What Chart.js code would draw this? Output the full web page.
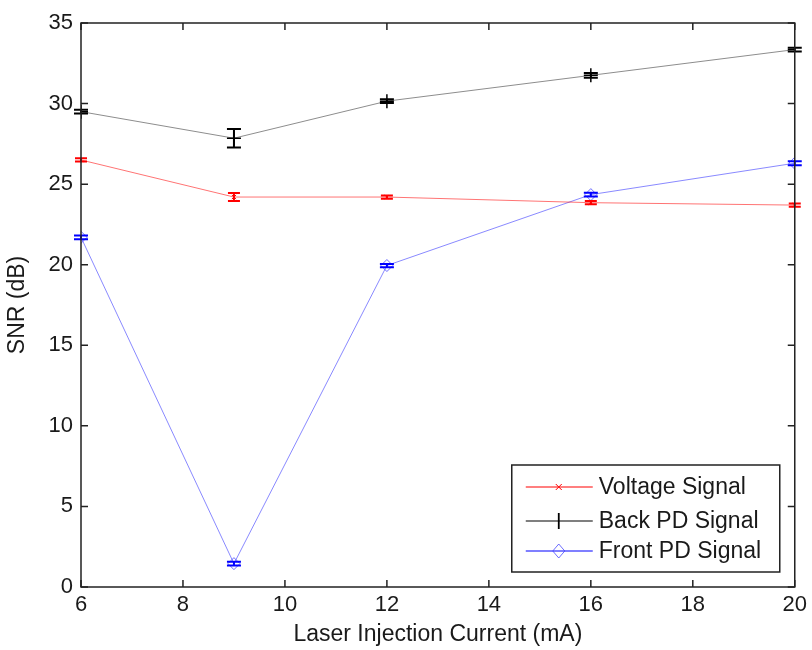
<!DOCTYPE html>
<html>
<head>
<meta charset="utf-8">
<script src="https://cdn.jsdelivr.net/npm/chart.js@4/dist/chart.umd.min.js"></script>
<style>
  html, body { margin: 0; padding: 0; background: #ffffff; }
  #wrap { width: 812px; height: 650px; }
</style>
</head>
<body>
<div id="wrap"><canvas id="c" width="812" height="650"></canvas></div>
<script>
// ---- data ----
const currents = [6, 9, 12, 16, 20];
const voltageSNR = [26.5, 24.2, 24.2, 23.85, 23.7];
const voltageErr = [0.1, 0.25, 0.1, 0.1, 0.1];
const backSNR = [29.5, 27.85, 30.15, 31.75, 33.35];
const backErr = [0.12, 0.57, 0.12, 0.15, 0.12];
const frontSNR = [21.7, 1.45, 19.95, 24.35, 26.3];
const frontErr = [0.12, 0.12, 0.1, 0.12, 0.12];
const xTicks = [6, 8, 10, 12, 14, 16, 18, 20];
const yTicks = [0, 5, 10, 15, 20, 25, 30, 35];
const seriesNames = ['Voltage Signal', 'Back PD Signal', 'Front PD Signal'];

const FONT = "'Liberation Sans', Arial, sans-serif";
const TXT = '#1a1a1a';

function pts(xs, ys) { return xs.map((x, i) => ({ x: x, y: ys[i] })); }

const datasets = [
  { label: seriesNames[0], data: pts(currents, voltageSNR), errors: voltageErr,
    borderColor: 'rgba(255,0,0,0.55)', borderWidth: 1, markColor: '#ff0000',
    pointStyle: 'crossRot', pointRadius: 3, pointBorderColor: '#ff0000', pointBorderWidth: 1,
    backgroundColor: 'transparent', capHalf: 6 },
  { label: seriesNames[1], data: pts(currents, backSNR), errors: backErr,
    borderColor: 'rgba(0,0,0,0.45)', borderWidth: 1, markColor: '#000000',
    pointStyle: 'cross', pointRadius: 7, pointBorderColor: '#000000', pointBorderWidth: 1.5,
    backgroundColor: 'transparent', capHalf: 7 },
  { label: seriesNames[2], data: pts(currents, frontSNR), errors: frontErr,
    borderColor: 'rgba(40,40,255,0.55)', borderWidth: 1, markColor: '#0000ff',
    pointStyle: 'rectRot', pointRadius: 6, pointBorderColor: 'rgba(60,60,255,0.75)', pointBorderWidth: 1,
    backgroundColor: 'transparent', capHalf: 7 }
];

const framePlugin = {
  id: 'frame',
  afterDatasetsDraw(chart) {
    const ctx = chart.ctx;
    const a = chart.chartArea;
    const xs = chart.scales.x, ys = chart.scales.y;
    // error bars
    chart.data.datasets.forEach((ds, di) => {
      const meta = chart.getDatasetMeta(di);
      ctx.save();
      ctx.strokeStyle = ds.markColor;
      ctx.lineWidth = 2;
      meta.data.forEach((p, i) => {
        const v = ds.data[i].y, e = ds.errors[i];
        const y1 = ys.getPixelForValue(v + e), y2 = ys.getPixelForValue(v - e);
        const x = p.x, h = ds.capHalf;
        ctx.beginPath();
        ctx.moveTo(x, y1); ctx.lineTo(x, y2);
        ctx.moveTo(x - h, y1); ctx.lineTo(x + h, y1);
        ctx.moveTo(x - h, y2); ctx.lineTo(x + h, y2);
        ctx.stroke();
      });
      ctx.restore();
    });
    // frame and inward ticks
    ctx.save();
    ctx.strokeStyle = '#222';
    ctx.lineWidth = 1.5;
    ctx.strokeRect(a.left, a.top, a.right - a.left, a.bottom - a.top);
    ctx.lineWidth = 1.5;
    const tl = 7;
    ctx.beginPath();
    xTicks.forEach(t => {
      const x = xs.getPixelForValue(t);
      ctx.moveTo(x, a.bottom); ctx.lineTo(x, a.bottom - tl);
      ctx.moveTo(x, a.top); ctx.lineTo(x, a.top + tl);
    });
    yTicks.forEach(t => {
      const y = ys.getPixelForValue(t);
      ctx.moveTo(a.left, y); ctx.lineTo(a.left + tl, y);
      ctx.moveTo(a.right, y); ctx.lineTo(a.right - tl, y);
    });
    ctx.stroke();
    ctx.restore();
    // legend
    const bx1 = a.right - 283, bx2 = a.right - 15;
    const by1 = a.bottom - 122, by2 = a.bottom - 15;
    ctx.save();
    ctx.fillStyle = '#fff';
    ctx.fillRect(bx1, by1, bx2 - bx1, by2 - by1);
    ctx.strokeStyle = '#222';
    ctx.lineWidth = 1.5;
    ctx.strokeRect(bx1, by1, bx2 - bx1, by2 - by1);
    const rows = [by1 + 22, by1 + 56, by1 + 86];
    chart.data.datasets.forEach((ds, di) => {
      const y = rows[di];
      ctx.strokeStyle = ds.markColor;
      ctx.lineWidth = 1.2;
      ctx.beginPath(); ctx.moveTo(bx1 + 14, y); ctx.lineTo(bx1 + 81, y); ctx.stroke();
      const cx = bx1 + 47;
      ctx.lineWidth = 1;
      ctx.strokeStyle = ds.pointBorderColor;
      ctx.beginPath();
      if (ds.pointStyle === 'crossRot') {
        ctx.moveTo(cx - 3, y - 3); ctx.lineTo(cx + 3, y + 3);
        ctx.moveTo(cx - 3, y + 3); ctx.lineTo(cx + 3, y - 3);
      } else if (ds.pointStyle === 'cross') {
        ctx.lineWidth = 1.8;
        ctx.moveTo(cx, y - 8); ctx.lineTo(cx, y + 8);
      } else {
        ctx.moveTo(cx, y - 7); ctx.lineTo(cx + 6, y); ctx.lineTo(cx, y + 7); ctx.lineTo(cx - 6, y); ctx.closePath();
      }
      ctx.stroke();
      ctx.fillStyle = TXT;
      ctx.font = '23px ' + FONT;
      ctx.textBaseline = 'middle';
      ctx.textAlign = 'left';
      ctx.fillText(ds.label, bx1 + 87, y + 1);
    });
    ctx.restore();
  }
};

new Chart(document.getElementById('c'), {
  type: 'line',
  data: { datasets: datasets },
  plugins: [framePlugin],
  options: {
    responsive: false,
    animation: false,
    layout: { padding: { left: 0, right: 15, top: 23, bottom: 0 } },
    plugins: { legend: { display: false }, tooltip: { enabled: false } },
    scales: {
      x: {
        type: 'linear', min: 6, max: 20,
        afterBuildTicks: s => { s.ticks = xTicks.map(v => ({ value: v })); },
        afterFit: s => { s.height = 63; },
        grid: { display: false, drawTicks: false },
        border: { display: false },
        ticks: { color: TXT, font: { family: FONT, size: 22 }, padding: 5, maxRotation: 0, autoSkip: false },
        title: { display: true, text: 'Laser Injection Current (mA)', color: TXT,
                 font: { family: FONT, size: 23 }, padding: { top: 0, bottom: 2 } }
      },
      y: {
        type: 'linear', min: 0, max: 35,
        afterBuildTicks: s => { s.ticks = yTicks.map(v => ({ value: v })); },
        afterFit: s => { s.width = 81; },
        grid: { display: false, drawTicks: false },
        border: { display: false },
        ticks: { color: TXT, font: { family: FONT, size: 22 }, padding: 8, autoSkip: false },
        title: { display: true, text: 'SNR (dB)', color: TXT,
                 font: { family: FONT, size: 23 }, padding: { top: 4, bottom: 0 } }
      }
    }
  }
});
</script>
</body>
</html>
